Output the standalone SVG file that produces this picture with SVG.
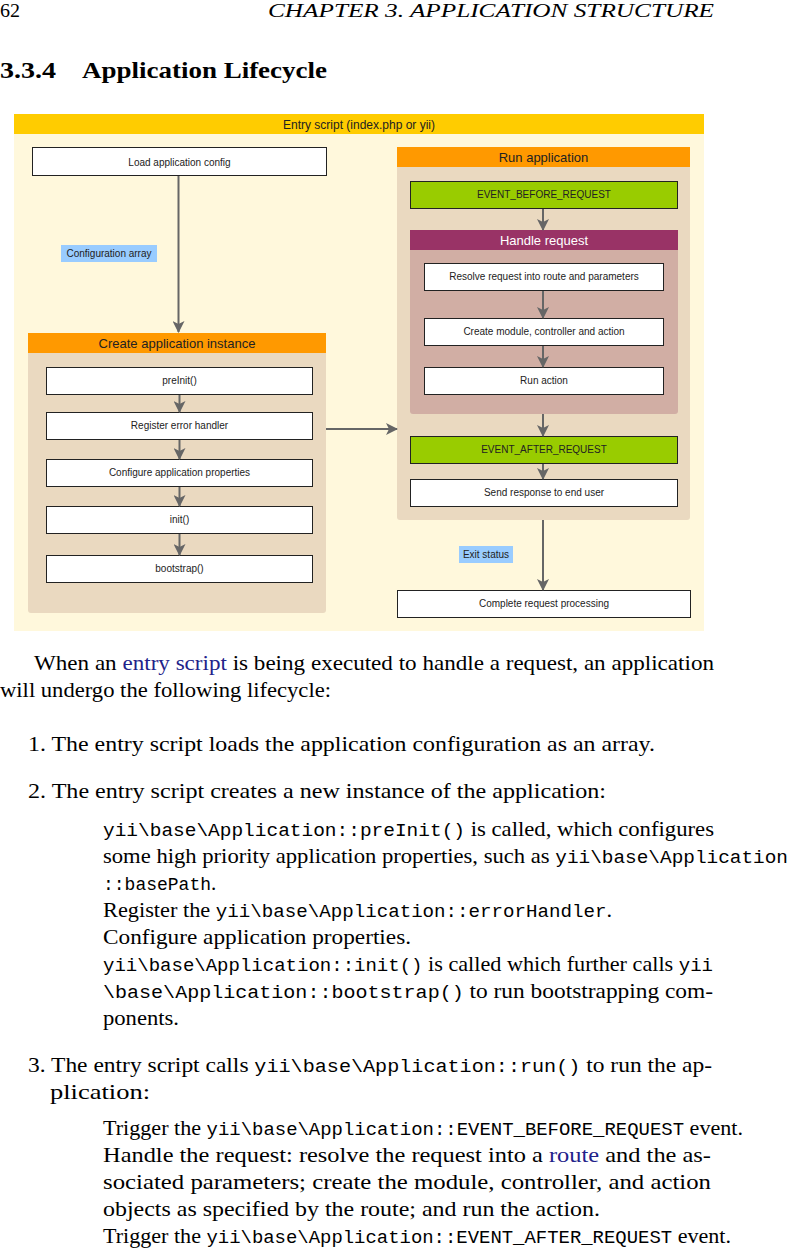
<svg xmlns="http://www.w3.org/2000/svg" width="788" height="1248" viewBox="0 0 788 1248">
<defs>
<marker id="ah" markerUnits="userSpaceOnUse" markerWidth="12" markerHeight="12" viewBox="0 0 12 12" refX="11" refY="6" orient="auto">
<path d="M0,0 L12,6 L0,12 L3,6 z" fill="#666"/>
</marker>
</defs>
<style>
.pg{font-family:"Liberation Serif",serif;font-size:21px;fill:#000}
.tt{font-family:"Liberation Mono",monospace;font-size:18px}
.lk{fill:#22228a}
.bx{fill:#fff;stroke:#222;stroke-width:1}
.gr{fill:#99CC00;stroke:#222;stroke-width:1}
.t{font-family:"Liberation Sans",Arial,sans-serif;font-size:10px;fill:#222;text-anchor:middle}
.h{font-family:"Liberation Sans",Arial,sans-serif;font-size:13px;fill:#222;text-anchor:middle}
.lab{fill:#99CCFF}
.cn{stroke:#666;stroke-width:2;fill:none;marker-end:url(#ah)}
</style>
<rect width="788" height="1248" fill="#fff"/>

<!-- page header -->
<text class="pg" x="0" y="17" textLength="20" lengthAdjust="spacingAndGlyphs" style="font-size:18px">62</text>
<text class="pg" x="268" y="17" textLength="446" lengthAdjust="spacingAndGlyphs" style="font-size:18px;font-style:italic">CHAPTER 3.  APPLICATION STRUCTURE</text>
<text class="pg" x="0" y="78" textLength="56" lengthAdjust="spacingAndGlyphs" style="font-size:24px;font-weight:bold">3.3.4</text>
<text class="pg" x="82" y="78" textLength="245" lengthAdjust="spacingAndGlyphs" style="font-size:24px;font-weight:bold">Application Lifecycle</text>

<!-- diagram background -->
<g id="entry">
<rect x="14" y="114" width="690" height="517" fill="#FFF8DC"/>
<rect x="14" y="114" width="690" height="20" fill="#FFCC00"/>
<text class="t" x="359" y="129" style="font-size:12px">Entry script (index.php or yii)</text>
</g>

<g id="load">
<rect class="bx" x="32.5" y="147.5" width="294" height="28"/>
<text class="t" x="179.5" y="165.5">Load application config</text>
</g>

<g id="create">
<rect x="28" y="333" width="298" height="280" rx="3" fill="#EAD9C0"/>
<rect x="28" y="333" width="298" height="20" fill="#FF9900"/>
<text class="h" x="177" y="348">Create application instance</text>
</g>
<g id="preinit"><rect class="bx" x="46.5" y="367.5" width="266" height="27"/><text class="t" x="179.5" y="384">preInit()</text></g>
<g id="register"><rect class="bx" x="46.5" y="412.5" width="266" height="27"/><text class="t" x="179.5" y="429">Register error handler</text></g>
<g id="configure"><rect class="bx" x="46.5" y="459.5" width="266" height="27"/><text class="t" x="179.5" y="476">Configure application properties</text></g>
<g id="init"><rect class="bx" x="46.5" y="506.5" width="266" height="27"/><text class="t" x="179.5" y="523">init()</text></g>
<g id="bootstrap"><rect class="bx" x="46.5" y="555.5" width="266" height="27"/><text class="t" x="179.5" y="572">bootstrap()</text></g>

<g id="run">
<rect x="397" y="147" width="293" height="373" rx="3" fill="#EAD9C0"/>
<rect x="397" y="147" width="293" height="20" fill="#FF9900"/>
<text class="h" x="543.5" y="162">Run application</text>
</g>
<g id="before"><rect class="gr" x="410.5" y="181.5" width="267" height="27"/><text class="t" x="544" y="198">EVENT_BEFORE_REQUEST</text></g>
<g id="handle">
<rect x="410" y="230" width="268" height="184" rx="3" fill="#D1AEA4"/>
<rect x="410" y="230" width="268" height="20" fill="#993366"/>
<text class="h" x="544" y="245" style="fill:#fff">Handle request</text>
</g>
<g id="resolve"><rect class="bx" x="424.5" y="263.5" width="239" height="27"/><text class="t" x="544" y="280">Resolve request into route and parameters</text></g>
<g id="createmod"><rect class="bx" x="424.5" y="318.5" width="239" height="27"/><text class="t" x="544" y="335">Create module, controller and action</text></g>
<g id="runaction"><rect class="bx" x="424.5" y="367.5" width="239" height="27"/><text class="t" x="544" y="384">Run action</text></g>
<g id="after"><rect class="gr" x="410.5" y="436.5" width="267" height="27"/><text class="t" x="544" y="453">EVENT_AFTER_REQUEST</text></g>
<g id="send"><rect class="bx" x="410.5" y="479.5" width="267" height="27"/><text class="t" x="544" y="496">Send response to end user</text></g>
<g id="complete"><rect class="bx" x="397.5" y="590.5" width="293" height="27"/><text class="t" x="544" y="607">Complete request processing</text></g>

<g id="connectors">
<line class="cn" x1="178.5" y1="176" x2="178.5" y2="332"/>
<line class="cn" x1="179.5" y1="395" x2="179.5" y2="412"/>
<line class="cn" x1="179.5" y1="440" x2="179.5" y2="459"/>
<line class="cn" x1="179.5" y1="487" x2="179.5" y2="506"/>
<line class="cn" x1="179.5" y1="534" x2="179.5" y2="555"/>
<line class="cn" x1="326" y1="429" x2="397" y2="429"/>
<line class="cn" x1="543" y1="209" x2="543" y2="230"/>
<line class="cn" x1="543" y1="291" x2="543" y2="318"/>
<line class="cn" x1="543" y1="346" x2="543" y2="367"/>
<line class="cn" x1="543" y1="414" x2="543" y2="436"/>
<line class="cn" x1="543" y1="464" x2="543" y2="479"/>
<line class="cn" x1="543" y1="520" x2="543" y2="590"/>
<g id="lbl-config"><rect class="lab" x="61" y="245" width="96" height="17"/><text class="t" x="109" y="257">Configuration array</text></g>
<g id="lbl-exit"><rect class="lab" x="459" y="546" width="54" height="17"/><text class="t" x="486" y="558">Exit status</text></g>
</g>

<!-- body text -->
<text class="pg" x="34" y="670" textLength="680" lengthAdjust="spacingAndGlyphs">When an <tspan class="lk">entry script</tspan> is being executed to handle a request, an application</text>
<text class="pg" x="0" y="697" textLength="331" lengthAdjust="spacingAndGlyphs">will undergo the following lifecycle:</text>
<text class="pg" x="28" y="751" textLength="627" lengthAdjust="spacingAndGlyphs">1. The entry script loads the application configuration as an array.</text>
<text class="pg" x="28" y="798" textLength="578" lengthAdjust="spacingAndGlyphs">2. The entry script creates a new instance of the application:</text>
<text class="pg" x="103" y="836" textLength="611" lengthAdjust="spacingAndGlyphs"><tspan class="tt">yii\base\Application::preInit()</tspan> is called, which configures</text>
<text class="pg" x="103" y="863" textLength="685" lengthAdjust="spacingAndGlyphs">some high priority application properties, such as <tspan class="tt">yii\base\Application</tspan></text>
<text class="pg" x="103" y="890"><tspan class="tt">::basePath</tspan>.</text>
<text class="pg" x="103" y="917" textLength="509" lengthAdjust="spacingAndGlyphs">Register the <tspan class="tt">yii\base\Application::errorHandler</tspan>.</text>
<text class="pg" x="103" y="944" textLength="308" lengthAdjust="spacingAndGlyphs">Configure application properties.</text>
<text class="pg" x="103" y="971" textLength="610" lengthAdjust="spacingAndGlyphs"><tspan class="tt">yii\base\Application::init()</tspan> is called which further calls <tspan class="tt">yii</tspan></text>
<text class="pg" x="103" y="998" textLength="610" lengthAdjust="spacingAndGlyphs"><tspan class="tt">\base\Application::bootstrap()</tspan> to run bootstrapping com-</text>
<text class="pg" x="103" y="1025" textLength="76" lengthAdjust="spacingAndGlyphs">ponents.</text>
<text class="pg" x="28" y="1072" textLength="684" lengthAdjust="spacingAndGlyphs">3. The entry script calls <tspan class="tt">yii\base\Application::run()</tspan> to run the ap-</text>
<text class="pg" x="50" y="1099" textLength="100" lengthAdjust="spacingAndGlyphs">plication:</text>
<text class="pg" x="103" y="1135" textLength="640" lengthAdjust="spacingAndGlyphs">Trigger the <tspan class="tt">yii\base\Application::EVENT_BEFORE_REQUEST</tspan> event.</text>
<text class="pg" x="103" y="1162" textLength="608" lengthAdjust="spacingAndGlyphs">Handle the request: resolve the request into a <tspan class="lk">route</tspan> and the as-</text>
<text class="pg" x="103" y="1189" textLength="608" lengthAdjust="spacingAndGlyphs">sociated parameters; create the module, controller, and action</text>
<text class="pg" x="103" y="1216" textLength="497" lengthAdjust="spacingAndGlyphs">objects as specified by the route; and run the action.</text>
<text class="pg" x="103" y="1243" textLength="628" lengthAdjust="spacingAndGlyphs">Trigger the <tspan class="tt">yii\base\Application::EVENT_AFTER_REQUEST</tspan> event.</text>
</svg>
